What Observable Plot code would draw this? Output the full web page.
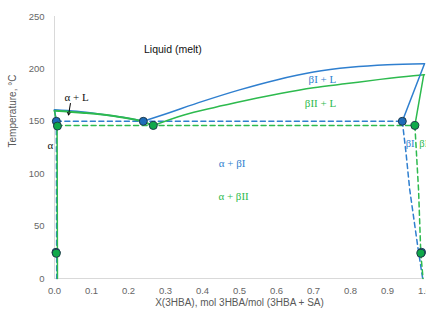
<!DOCTYPE html>
<html>
<head>
<meta charset="utf-8">
<script src="https://cdn.jsdelivr.net/npm/d3@7"></script>
<script src="https://cdn.jsdelivr.net/npm/@observablehq/plot@0.6"></script>
<style>
  html, body { margin: 0; padding: 0; background: #fff; overflow: hidden; }
</style>
</head>
<body>
<div id="chart"></div>
<script>
// ---- data ----
const xTicks = [0, 0.1, 0.2, 0.3, 0.4, 0.5, 0.6, 0.7, 0.8, 0.9, 1.0];
const yTicks = [0, 50, 100, 150, 200, 250];

// Form I (blue) liquidus, left branch and right branch
const blueLiqLeftX = [0, 0.06, 0.12, 0.18, 0.24];
const blueLiqLeftT = [161, 159.5, 157, 154, 150];
const blueLiqRightX = [0.24, 0.3, 0.4, 0.5, 0.6, 0.7, 0.8, 0.9, 1.0];
const blueLiqRightT = [150, 157, 169, 180, 189.5, 197, 201.5, 204, 205];
// Form II (green) liquidus
const greenLiqLeftX = [0, 0.08, 0.16, 0.23, 0.267];
const greenLiqLeftT = [160, 158, 155, 150.5, 146];
const greenLiqRightX = [0.267, 0.35, 0.43, 0.52, 0.61, 0.7, 0.79, 0.88, 0.97, 1.0];
const greenLiqRightT = [146, 156, 163, 170, 176.5, 182, 186, 190, 193.5, 194.5];

// solidus segments
const blueSolLeftX = [0, 0.005];   const blueSolLeftT = [161, 150];
const blueSolRightX = [1.0, 0.94]; const blueSolRightT = [205, 150];
const greenSolLeftX = [0, 0.007];  const greenSolLeftT = [160, 146];
const greenSolRightX = [0.998, 0.974]; const greenSolRightT = [194.5, 146];

// solvus lines
const blueSolvLeftX = [0.005, 0.006]; const blueSolvLeftT = [150, 0];
const greenSolvLeftX = [0.007, 0.008]; const greenSolvLeftT = [146, 0];
const blueSolvRightX = [0.94, 0.95, 0.96, 0.972, 0.982, 0.995];
const blueSolvRightT = [150, 120, 85, 55, 30, 0];
const greenSolvRightX = [0.974, 0.984, 0.99, 0.996];
const greenSolvRightT = [146, 84, 24, 0];

// eutectic horizontals
const blueEutX = [0.005, 0.94]; const blueEutT = [150, 150];
const greenEutX = [0.007, 0.974]; const greenEutT = [146, 146];

// measured points
const bluePtX = [0.005, 0.24, 0.94, 0.004, 0.992];
const bluePtT = [150, 150, 150, 25, 25];
const greenPtX = [0.008, 0.267, 0.974, 0.005, 0.99];
const greenPtT = [145.5, 146, 146, 24, 24];

// region labels
const blackLabels = ["Liquid (melt)"];
const blackLabelX = [0.32]; const blackLabelT = [218.5];
const serifBlackLabels = ["α + L", "α"];
const serifBlackX = [0.06, -0.011]; const serifBlackT = [173, 127];
const blueLabels = ["βI + L", "α + βI"];
const blueLabelX = [0.724, 0.48]; const blueLabelT = [190, 110];
const greenLabels = ["βII + L", "α + βII"];
const greenLabelX = [0.719, 0.484]; const greenLabelT = [167, 78];
const blueEdgeLabels = ["βI"]; const blueEdgeX = [0.949]; const blueEdgeT = [129];
const greenEdgeLabels = ["βII"]; const greenEdgeX = [0.986]; const greenEdgeT = [129];

// arrow from "α + L" to the liquidus
const arrowX1 = [0.043], arrowT1 = [167], arrowX2 = [0.038], arrowT2 = [156];

// ---- build ----
const zip = (xs, ts) => xs.map((x, i) => ({x, t: ts[i]}));
const BLUE = "#2f7fcf", GREEN = "#2dba4e";
const BLUE_PT = "#1e6cb8", GREEN_PT = "#10a94a", PT_STROKE = "#1f3a4a";
const serif = "Liberation Serif, DejaVu Serif, serif";

const line = (xs, ts, color, dashed) => Plot.line(zip(xs, ts), {
  x: "x", y: "t", stroke: color, strokeWidth: 1.5,
  strokeDasharray: dashed ? "5,3.5" : null
});
const smooth = (xs, ts, color) => Plot.line(zip(xs, ts), {
  x: "x", y: "t", stroke: color, strokeWidth: 1.5, curve: "monotone-x"
});

const chart = Plot.plot({
  width: 426,
  height: 311,
  marginLeft: 54,
  marginRight: 2,
  marginTop: 16,
  marginBottom: 33,
  style: {fontFamily: "Liberation Sans, Arial, sans-serif", fontSize: "9.5px", background: "white", overflow: "visible"},
  x: {domain: [0, 1]},
  y: {domain: [0, 250]},
  marks: [
    Plot.axisX({ticks: xTicks, tickSize: 0, tickPadding: 9, tickFormat: d3.format(".1f"), label: null, fill: "#666"}),
    Plot.axisY({ticks: yTicks, tickSize: 0, tickPadding: 10, label: null, fill: "#666"}),
    Plot.ruleX([0], {stroke: "#d9d9d9", strokeWidth: 1}),
    Plot.ruleY([0], {stroke: "#d9d9d9", strokeWidth: 1}),
    Plot.text(["Temperature, °C"], {frameAnchor: "left", rotate: -90, dx: -42, lineAnchor: "middle", fill: "#595959", fontSize: 10}),
    Plot.text(["X(3HBA), mol 3HBA/mol (3HBA + SA)"], {frameAnchor: "bottom", dy: 24, lineAnchor: "middle", fill: "#595959", fontSize: 10}),

    // dashed lines
    line(blueEutX, blueEutT, BLUE, true),
    line(greenEutX, greenEutT, GREEN, true),
    line(blueSolvLeftX, blueSolvLeftT, BLUE, true),
    line(blueSolvRightX, blueSolvRightT, BLUE, true),
    line(greenSolvRightX, greenSolvRightT, GREEN, true),
    line(greenSolvLeftX, greenSolvLeftT, GREEN, false),

    // solid lines
    smooth(greenLiqRightX, greenLiqRightT, GREEN),
    smooth(blueLiqRightX, blueLiqRightT, BLUE),
    smooth(blueLiqLeftX, blueLiqLeftT, BLUE),
    Plot.line(zip(greenLiqLeftX, greenLiqLeftT), {x: "x", y: "t", stroke: GREEN, strokeWidth: 2, curve: "monotone-x"}),
    line(blueSolLeftX, blueSolLeftT, BLUE, false),
    line(greenSolLeftX, greenSolLeftT, GREEN, false),
    line(blueSolRightX, blueSolRightT, BLUE, false),
    line(greenSolRightX, greenSolRightT, GREEN, false),

    // points
    Plot.dot(zip(bluePtX, bluePtT), {x: "x", y: "t", r: 4, fill: BLUE_PT, stroke: PT_STROKE, strokeWidth: 1}),
    Plot.dot(zip(greenPtX, greenPtT), {x: "x", y: "t", r: 4, fill: GREEN_PT, stroke: PT_STROKE, strokeWidth: 1}),

    // arrow
    Plot.arrow([0], {x1: i => arrowX1[0], y1: i => arrowT1[0], x2: i => arrowX2[0], y2: i => arrowT2[0],
      stroke: "#000", strokeWidth: 1, headLength: 4}),

    // labels
    Plot.text(blackLabels, {x: (d, i) => blackLabelX[i], y: (d, i) => blackLabelT[i], text: d => d, fill: "#111", fontSize: 10.5}),
    Plot.text(serifBlackLabels, {x: (d, i) => serifBlackX[i], y: (d, i) => serifBlackT[i], text: d => d, fill: "#111", fontSize: 11, fontFamily: serif}),
    Plot.text(blueLabels, {x: (d, i) => blueLabelX[i], y: (d, i) => blueLabelT[i], text: d => d, fill: BLUE, fontSize: 11, fontFamily: serif}),
    Plot.text(greenLabels, {x: (d, i) => greenLabelX[i], y: (d, i) => greenLabelT[i], text: d => d, fill: GREEN, fontSize: 11, fontFamily: serif}),
    Plot.text(blueEdgeLabels, {x: (d, i) => blueEdgeX[i], y: (d, i) => blueEdgeT[i], text: d => d, fill: BLUE, fontSize: 10.5, fontFamily: serif, textAnchor: "start"}),
    Plot.text(greenEdgeLabels, {x: (d, i) => greenEdgeX[i], y: (d, i) => greenEdgeT[i], text: d => d, fill: GREEN, fontSize: 10.5, fontFamily: serif, textAnchor: "start"})
  ]
});
document.getElementById("chart").appendChild(chart);
</script>
</body>
</html>
